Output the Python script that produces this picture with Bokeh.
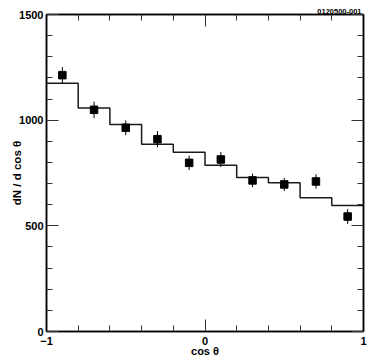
import numpy as np
from bokeh.plotting import figure
from bokeh.models import Range1d, LinearAxis, FixedTicker, ColumnDataSource
from bokeh.embed import file_html
from bokeh.resources import INLINE

# ---- data ----
bin_centers = [-0.9, -0.7, -0.5, -0.3, -0.1, 0.1, 0.3, 0.5, 0.7, 0.9]
bin_width = 0.2
data_values = [1213, 1049, 964, 910, 798, 814, 715, 696, 710, 544]
data_errors = [38, 39, 35, 38, 34, 35, 32, 31, 34, 35]
hist_values = [1175, 1058, 980, 886, 848, 787, 729, 704, 633, 596]

x_major_ticks = [-1, 0, 1]
x_minor_ticks = [-0.8, -0.6, -0.4, -0.2, 0.2, 0.4, 0.6, 0.8]
y_major_ticks = [0, 500, 1000, 1500]
y_minor_ticks = [100, 200, 300, 400, 600, 700, 800, 900, 1100, 1200, 1300, 1400]
x_tick_labels = {-1: "\u22121", 0: "0", 1: "1"}

title_text = "0120500-001"
x_label = "cos \u03b8"
y_label = "dN / d cos \u03b8"

FONT = "Liberation Sans"

p = figure(width=376, height=360, x_range=Range1d(-1, 1), y_range=Range1d(0, 1500),
           x_axis_type=None, y_axis_type=None, output_backend="svg", toolbar_location=None,
           min_border_left=46, min_border_right=13, min_border_top=14, min_border_bottom=29,
           title=title_text)
p.outline_line_color = "black"
p.outline_line_width = 1.5
p.background_fill_color = "white"
p.border_fill_color = "white"

p.title.align = "right"
p.title.offset = 2
p.title.standoff = 1
p.title.text_font = FONT
p.title.text_font_style = "bold"
p.title.text_font_size = "7.5px"
p.title.text_color = "black"


def make_axis(ticks, minor, labelled, standoff, overrides=None):
    ax = LinearAxis(ticker=FixedTicker(ticks=ticks, minor_ticks=minor))
    ax.axis_line_color = "black"
    ax.axis_line_width = 1.5
    ax.major_tick_in = 12
    ax.major_tick_out = 0
    ax.minor_tick_in = 6
    ax.minor_tick_out = 0
    ax.major_tick_line_color = "#333333"
    ax.minor_tick_line_color = "#333333"
    ax.major_tick_line_width = 1
    ax.minor_tick_line_width = 1
    ax.major_label_standoff = standoff
    if labelled:
        ax.major_label_text_font = FONT
        ax.major_label_text_font_style = "bold"
        ax.major_label_text_font_size = "11px"
        ax.major_label_text_color = "black"
        ax.axis_label_text_font = FONT
        ax.axis_label_text_font_style = "bold"
        ax.axis_label_text_color = "black"
        if overrides:
            ax.major_label_overrides = overrides
    else:
        ax.major_label_text_font_size = "0px"
        ax.major_label_text_alpha = 0
    return ax


xb = make_axis(x_major_ticks, x_minor_ticks, True, 5, x_tick_labels)
xb.axis_label = x_label
xb.axis_label_text_font_size = "11px"
xb.axis_label_standoff = -3
p.add_layout(xb, "below")
p.add_layout(make_axis(x_major_ticks, x_minor_ticks, False, 0), "above")

yl = make_axis(y_major_ticks, y_minor_ticks, True, 3)
yl.axis_label = y_label
yl.axis_label_text_font_size = "11.5px"
yl.axis_label_standoff = -7
p.add_layout(yl, "left")
p.add_layout(make_axis(y_major_ticks, y_minor_ticks, False, 0), "right")

# histogram (step line)
centers = np.array(bin_centers)
edges = np.append(centers - bin_width / 2, centers[-1] + bin_width / 2)
levels = np.append(hist_values, hist_values[-1])
p.step(x=edges, y=levels, mode="after", line_color="#1a1a1a", line_width=1.5)

# data points with error bars
vals = np.array(data_values)
errs = np.array(data_errors)
src = ColumnDataSource(dict(x=bin_centers, y=data_values, lo=vals - errs, hi=vals + errs))
p.segment(x0="x", y0="lo", x1="x", y1="hi", source=src, line_color="black", line_width=1)
p.scatter(x="x", y="y", source=src, marker="square", size=7.5, fill_color="black", line_color="black")

open("out.html", "w").write(file_html(p, INLINE))
